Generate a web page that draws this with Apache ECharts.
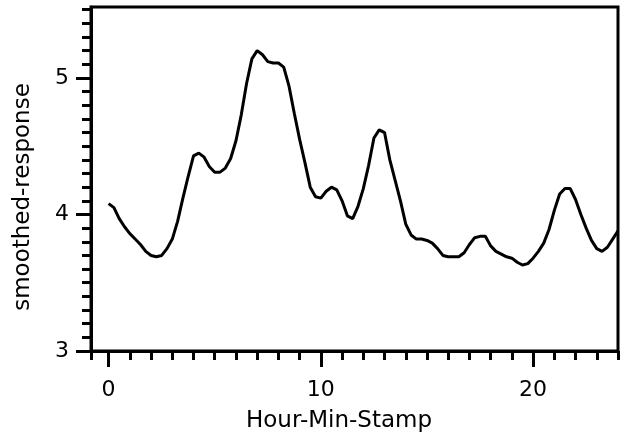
<!DOCTYPE html>
<html>
<head>
<meta charset="utf-8">
<script src="https://cdn.jsdelivr.net/npm/echarts@6/dist/echarts.min.js"></script>
<style>html,body{margin:0;padding:0;background:#fff}#c{width:622px;height:440px}</style>
</head>
<body>
<div id="c"></div>
<script>
var hours = [0,0.25,0.5,0.75,1,1.25,1.5,1.75,2,2.25,2.5,2.75,3,3.25,3.5,3.75,4,4.25,4.5,4.75,5,5.25,5.5,5.75,6,6.25,6.5,6.75,7,7.25,7.5,7.75,8,8.25,8.5,8.75,9,9.25,9.5,9.75,10,10.25,10.5,10.75,11,11.25,11.5,11.75,12,12.25,12.5,12.75,13,13.25,13.5,13.75,14,14.25,14.5,14.75,15,15.25,15.5,15.75,16,16.25,16.5,16.75,17,17.25,17.5,17.75,18,18.25,18.5,18.75,19,19.25,19.5,19.75,20,20.25,20.5,20.75,21,21.25,21.5,21.75,22,22.25,22.5,22.75,23,23.25,23.5,23.75,24];
var smoothedResponse = [4.08,4.05,3.97,3.91,3.86,3.82,3.78,3.73,3.70,3.69,3.70,3.75,3.82,3.95,4.12,4.28,4.43,4.45,4.42,4.35,4.31,4.31,4.34,4.41,4.54,4.73,4.96,5.14,5.20,5.17,5.12,5.11,5.11,5.08,4.94,4.74,4.55,4.38,4.20,4.13,4.12,4.17,4.20,4.18,4.10,3.99,3.97,4.06,4.19,4.36,4.56,4.62,4.60,4.40,4.25,4.10,3.93,3.85,3.82,3.82,3.81,3.79,3.75,3.70,3.69,3.69,3.69,3.72,3.78,3.83,3.84,3.84,3.77,3.73,3.71,3.69,3.68,3.65,3.63,3.64,3.68,3.73,3.79,3.89,4.03,4.15,4.19,4.19,4.11,4.00,3.90,3.81,3.75,3.73,3.76,3.82,3.88];
var xMajorTicks = [0,10,20];
var xMinorTicks = [-0.83,1,2,3,4,5,6,7,8,9,11,12,13,14,15,16,17,18,19,21,22,23,24];
var yMajorTicks = [3,4,5];
var yMinorTicks = [3.1,3.2,3.3,3.4,3.5,3.6,3.7,3.8,3.9,4.1,4.2,4.3,4.4,4.5,4.6,4.7,4.8,4.9,5.1,5.2,5.3,5.4,5.5];
var xName = 'Hour-Min-Stamp';
var yName = 'smoothed-response';

var font = 'DejaVu Sans';
var xMin = -0.83, xMax = 24, yMin = 3, yMax = 5.52;

var chart = echarts.init(document.getElementById('c'), null, {renderer: 'canvas'});
var data = hours.map(function(h, i){ return [h, smoothedResponse[i]]; });

chart.setOption({
  animation: false,
  backgroundColor: '#fff',
  grid: {left: 91, right: 4, top: 7, bottom: 89, show: true, borderColor: '#000', borderWidth: 3, backgroundColor: 'transparent'},
  xAxis: [
    {
      type: 'value', min: xMin, max: xMax, position: 'bottom',
      name: xName, nameLocation: 'middle', nameGap: 59,
      nameTextStyle: {fontFamily: font, fontSize: 23, color: '#000', padding: [0, 31, 0, 0]},
      axisLine: {show: true, onZero: false, lineStyle: {color: '#000', width: 3}},
      axisTick: {show: true, length: 16, lineStyle: {color: '#000', width: 3}, customValues: xMajorTicks},
      axisLabel: {show: true, margin: 28, fontFamily: font, fontSize: 22, color: '#000', customValues: xMajorTicks},
      splitLine: {show: false}
    },
    {
      type: 'value', min: xMin, max: xMax, position: 'bottom', gridIndex: 0,
      axisLine: {show: false, onZero: false},
      axisTick: {show: true, length: 9, lineStyle: {color: '#000', width: 3}, customValues: xMinorTicks},
      axisLabel: {show: false},
      splitLine: {show: false}
    }
  ],
  yAxis: [
    {
      type: 'value', min: yMin, max: yMax, position: 'left',
      name: yName, nameLocation: 'middle', nameGap: 56, nameRotate: 90,
      nameTextStyle: {fontFamily: font, fontSize: 23, color: '#000', padding: [0, 36, 0, 0]},
      axisLine: {show: true, onZero: false, lineStyle: {color: '#000', width: 3}},
      axisTick: {show: true, length: 15, lineStyle: {color: '#000', width: 3}, customValues: yMajorTicks},
      axisLabel: {show: true, margin: 22, fontFamily: font, fontSize: 22, color: '#000', customValues: yMajorTicks},
      splitLine: {show: false}
    },
    {
      type: 'value', min: yMin, max: yMax, position: 'left', gridIndex: 0, offset: 0,
      axisLine: {show: false, onZero: false},
      axisTick: {show: true, length: 9, lineStyle: {color: '#000', width: 3}, customValues: yMinorTicks},
      axisLabel: {show: false},
      splitLine: {show: false}
    }
  ],
  series: [{
    type: 'line', xAxisIndex: 0, yAxisIndex: 0, data: data,
    showSymbol: false, smooth: false,
    lineStyle: {color: '#000', width: 3}
  }]
});
</script>
</body>
</html>
